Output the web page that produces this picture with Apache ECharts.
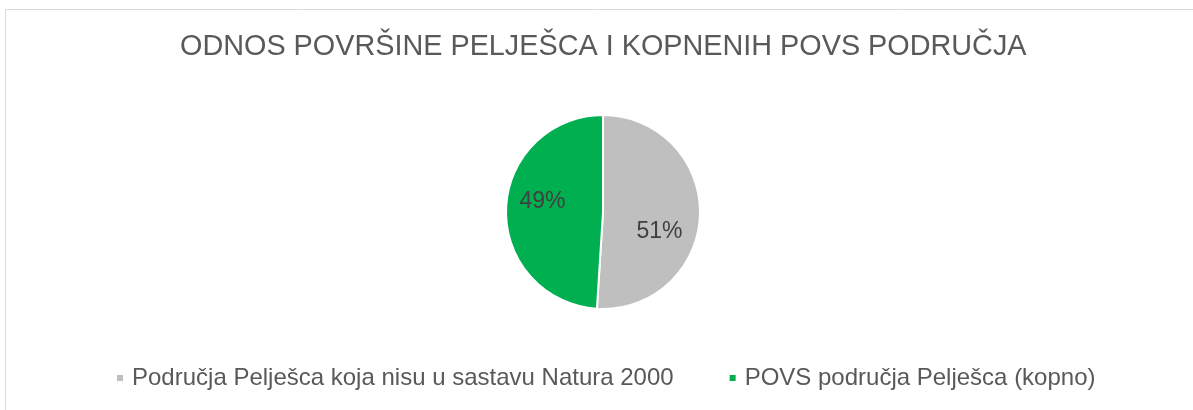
<!DOCTYPE html>
<html>
<head>
<meta charset="utf-8">
<script src="https://cdn.jsdelivr.net/npm/echarts@6/dist/echarts.min.js"></script>
<style>
html,body{margin:0;padding:0;background:#fff;}
#chart{width:1193px;height:410px;}
</style>
</head>
<body>
<div id="chart"></div>
<script>
const titleText = 'ODNOS POVRŠINE PELJEŠCA I KOPNENIH POVS PODRUČJA';
const categories = ['Područja Pelješca koja nisu u sastavu Natura 2000', 'POVS područja Pelješca (kopno)'];
const values = [51, 49];
const colors = ['#BFBFBF', '#00B050'];
const labelShift = [[5, 18], [-9, -9]];

const chart = echarts.init(document.getElementById('chart'), null, {renderer: 'canvas'});
const FONT = '"Liberation Sans", Arial, sans-serif';
chart.setOption({
  animation: false,
  backgroundColor: '#fff',
  graphic: [{
    type: 'rect',
    shape: {x: 5.5, y: 9.5, width: 1300, height: 500},
    style: {fill: 'none', stroke: '#D9D9D9', lineWidth: 1},
    silent: true
  }],
  title: {
    text: titleText,
    left: 175,
    top: 28,
    textStyle: {fontFamily: FONT, fontSize: 28.8, fontWeight: 'normal', color: '#595959'}
  },
  legend: {
    bottom: 15,
    left: 110,
    icon: 'rect',
    itemWidth: 8,
    itemHeight: 8,
    itemGap: 54,
    textStyle: {fontFamily: FONT, fontSize: 24, color: '#595959', padding: [0, 0, 0, 3]},
    data: categories
  },
  series: [{
    type: 'pie',
    center: [603, 212],
    radius: 97,
    startAngle: 90,
    clockwise: true,
    avoidLabelOverlap: false,
    itemStyle: {borderColor: '#fff', borderWidth: 2},
    label: {
      show: true,
      position: 'inside',
      formatter: '{d}%',
      fontFamily: FONT,
      fontSize: 23,
      color: '#404040'
    },
    labelLine: {show: false},
    labelLayout: function (p) {
      const s = labelShift[p.dataIndex];
      return {dx: s[0], dy: s[1]};
    },
    data: categories.map((c, i) => ({name: c, value: values[i], itemStyle: {color: colors[i]}}))
  }]
});
</script>
</body>
</html>
